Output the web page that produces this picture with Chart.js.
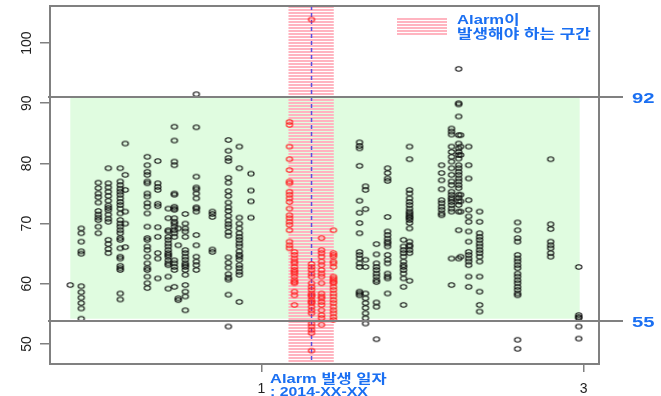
<!DOCTYPE html>
<html><head><meta charset="utf-8">
<script src="https://cdn.jsdelivr.net/npm/chart.js@4"></script>
<style>html,body{margin:0;padding:0;background:#fff;}canvas{display:block;}</style>
</head><body>
<canvas id="c" width="661" height="396"></canvas>
<script>
// ---- data ----
const columnX = [-0.186, -0.118, -0.012, 0.050, 0.124, 0.155, 0.292, 0.357, 0.422, 0.460, 0.484, 0.528,
  0.596, 0.696, 0.795, 0.863, 0.935, 1.174, 1.205, 1.311, 1.373, 1.447, 1.609, 1.646, 1.714, 1.783,
  1.882, 1.919, 2.118, 2.180, 2.224, 2.236, 2.286, 2.354, 2.590, 2.795, 2.969];
const columnValues = [
  [59.8],
  [69.2, 68.4, 67.0, 65.4, 65.0, 59.6, 58.6, 57.7, 56.8, 55.9, 54.2],
  [76.8, 75.9, 75.0, 74.4, 73.5, 72.1, 71.5, 71.0, 70.6, 69.5, 68.4],
  [79.2, 76.7, 76.0, 75.3, 74.6, 73.8, 73.0, 72.6, 72.2, 71.5, 70.8, 70.3, 67.3, 66.6, 65.8, 65.1],
  [79.2, 77.0, 76.4, 75.8, 75.3, 74.8, 74.2, 73.6, 73.1, 72.5, 71.7, 70.6, 70.0, 69.5, 68.9, 68.4, 67.6, 67.3, 65.9, 64.5, 64.2, 63.0, 62.6, 62.3, 58.4, 57.4],
  [83.3, 78.1, 75.6, 72.0, 70.0, 66.1],
  [81.1, 79.7, 78.6, 78.1, 77.0, 76.7, 75.0, 74.5, 73.4, 72.8, 71.7, 69.5, 67.6, 67.3, 66.2, 65.6, 64.5, 63.4, 62.6, 62.3, 61.2, 60.1, 59.3],
  [80.4, 76.7, 76.1, 75.6, 73.3, 72.9, 69.4, 67.8, 65.1, 64.2, 60.9],
  [72.5, 70.9, 68.9, 68.7, 67.8, 67.3, 66.7, 66.2, 65.6, 65.1, 64.8, 64.5, 63.9, 63.4, 63.1, 61.2, 59.2],
  [86.1, 83.8, 80.3, 79.7, 75.0, 74.8, 72.8, 72.5, 72.3, 70.9, 70.3, 70.0, 69.5, 68.9, 68.4, 67.8, 63.9, 63.4, 62.8, 62.3, 59.5],
  [69.2, 66.4, 57.6, 57.3],
  [71.6, 70.0, 69.2, 68.7, 67.8, 65.6, 65.1, 64.5, 64.0, 63.4, 63.1, 62.8, 62.3, 61.5, 59.8, 58.7, 57.9, 55.6],
  [91.5, 86.0, 77.8, 76.0, 75.7, 75.0, 74.2, 72.7, 72.5, 72.0, 68.1, 66.4, 64.5, 63.7, 63.1, 62.3],
  [72.0, 71.6, 71.1, 65.7, 65.3],
  [83.9, 82.1, 80.9, 80.4, 77.6, 76.8, 75.4, 74.6, 73.5, 72.7, 72.1, 71.3, 70.5, 69.9, 69.4, 68.6, 68.0, 64.4, 63.5, 62.7, 61.6, 61.0, 60.7, 58.2, 52.9],
  [82.8, 79.2, 71.0, 70.0, 69.2, 68.4, 67.8, 67.3, 66.7, 66.2, 65.4, 64.8, 64.5, 64.0, 63.1, 62.6, 62.0, 61.5, 57.0],
  [78.3, 75.5, 73.7, 71.0],
  [86.9, 86.4, 82.8, 80.7, 78.9, 77.0, 76.7, 75.3, 74.8, 74.2, 73.6, 72.5, 71.4, 70.9, 70.3, 69.8, 68.9, 67.0, 66.4, 65.9],
  [65.3, 64.8, 64.2, 63.7, 63.4, 62.8, 62.3, 62.0, 61.7, 61.2, 60.6, 60.3, 60.1, 58.7, 58.1, 56.5],
  [103.9, 63.3, 62.8, 62.3, 61.7, 61.2, 60.1, 59.5, 59.0, 58.4, 58.1, 57.9, 57.3, 57.0, 56.8, 56.2, 55.6, 55.1, 53.4, 52.9, 52.3, 51.8, 48.9],
  [67.6, 65.6, 65.1, 64.5, 63.7, 63.1, 62.3, 61.7, 61.2, 60.1, 58.4, 57.9, 57.6, 57.0, 56.5, 55.6, 54.8, 54.3, 53.2],
  [68.9, 65.1, 64.8, 64.5, 63.7, 63.4, 62.8, 61.2, 60.9, 60.6, 60.3, 60.1, 59.5, 59.0, 58.4, 57.9, 57.3, 56.8, 56.2, 55.6, 55.1, 54.5, 54.0],
  [83.5, 82.9, 82.5, 79.6, 73.8, 71.8, 70.1, 68.4, 65.3, 64.8, 64.2, 63.4, 62.8, 58.7, 58.4, 58.1],
  [76.2, 75.6, 72.4, 64.0, 62.8, 58.4, 57.6, 56.8, 56.0, 55.1, 54.3, 53.4],
  [66.6, 64.9, 63.4, 62.8, 62.3, 61.7, 61.2, 60.6, 60.3, 56.9, 56.2, 50.8],
  [79.2, 78.4, 77.5, 77.1, 71.1, 68.7, 68.1, 67.5, 67.0, 66.7, 66.2, 64.8, 64.0, 63.4, 61.7, 61.2, 60.9, 58.4],
  [67.3, 66.2, 65.6, 65.1, 64.5, 63.7, 63.1, 62.8, 62.3, 61.7, 60.9, 59.5, 56.5],
  [82.8, 80.7, 75.6, 75.0, 74.2, 73.6, 73.1, 72.5, 72.0, 71.7, 71.4, 71.1, 70.9, 70.6, 70.1, 69.2, 67.0, 66.4, 66.2, 65.6, 65.1, 60.5],
  [79.7, 78.4, 77.2, 75.7, 73.9, 73.4, 72.8, 72.3, 71.7, 71.4],
  [85.8, 85.3, 84.8, 82.8, 81.9, 81.1, 80.3, 79.2, 78.1, 77.0, 76.4, 75.3, 74.8, 74.3, 74.0, 73.6, 73.1, 72.5, 72.0, 64.2, 59.8],
  [95.7, 90.0, 89.8, 87.8, 84.7, 83.3, 82.5, 81.9, 81.4, 80.8, 79.7, 79.2, 78.6, 78.1, 77.5, 77.0, 76.4, 75.9, 74.8, 74.3, 73.7, 73.1, 72.0, 68.9, 64.2],
  [84.7, 82.8, 81.4, 74.8, 73.7, 72.0, 64.5],
  [82.8, 79.7, 77.5, 73.9, 72.3, 71.2, 70.3, 68.7, 67.0, 65.3, 64.8, 64.2, 63.7, 63.1, 61.2, 59.5],
  [72.0, 70.3, 68.4, 67.8, 67.3, 66.7, 66.2, 65.6, 65.1, 64.5, 63.7, 61.2, 58.7, 56.5, 55.4],
  [70.2, 68.9, 67.6, 67.0, 64.8, 64.2, 63.7, 63.1, 62.6, 61.7, 61.2, 60.6, 60.1, 59.5, 59.0, 58.4, 58.1, 50.7, 49.2],
  [80.7, 69.9, 69.1, 67.0, 66.4, 65.9, 65.1, 64.5],
  [62.8, 54.8, 54.5, 54.3, 52.9, 50.9]
];
const xTickValues = [1, 3];
const yTickValues = [50, 60, 70, 80, 90, 100];
const alarmBand = [1.168, 1.452];
const alarmDay = 1.311;
const limitValues = [91, 53.8];
const limitLabels = ['92', '55'];
const normalZoneX = [-0.186, 2.975];
const normalZoneY = [54.2, 91];
const legendLines = ['Alarm이', '발생해야 하는 구간'];
const axisNoteLines = ['Alarm 발생 일자', ': 2014-XX-XX'];

// ---- build point lists ----
const normalPts = [], alarmPts = [];
columnX.forEach((x, i) => {
  const inBand = x >= alarmBand[0] && x <= alarmBand[1];
  columnValues[i].forEach(v => (inBand ? alarmPts : normalPts).push({x, y: v}));
});

function makeMarker(color) {
  const c = document.createElement('canvas');
  c.width = 10; c.height = 8;
  const g = c.getContext('2d');
  g.strokeStyle = color; g.lineWidth = 1.1;
  g.beginPath(); g.ellipse(5, 4, 3.1, 2.2, 0, 0, Math.PI * 2); g.stroke();
  return c;
}
function makeStripe() {
  const c = document.createElement('canvas');
  c.width = 4; c.height = 3;
  const g = c.getContext('2d');
  g.fillStyle = '#ffb4c0'; g.fillRect(0, 0, 4, 2);
  return c;
}
const stripe = makeStripe();
const BLUE = '#1a6ff2';
const FONT = '"Liberation Sans", "Noto Sans CJK KR", sans-serif';

function stretchText(ctx, str, x, y, size, sx, color) {
  ctx.save();
  ctx.translate(x, y);
  ctx.scale(sx, 1);
  ctx.font = 'bold ' + size + 'px ' + FONT;
  ctx.fillStyle = color;
  ctx.textAlign = 'left';
  ctx.textBaseline = 'alphabetic';
  ctx.fillText(str, 0, 0);
  ctx.restore();
}

const decor = {
  id: 'decor',
  beforeDatasetsDraw(chart) {
    const {ctx, chartArea: a, scales: {x, y}} = chart;
    ctx.save();
    ctx.fillStyle = '#e0fce0';
    const gx0 = x.getPixelForValue(normalZoneX[0]), gx1 = x.getPixelForValue(normalZoneX[1]);
    const gy0 = y.getPixelForValue(normalZoneY[1]), gy1 = y.getPixelForValue(normalZoneY[0]);
    ctx.fillRect(gx0, gy0, gx1 - gx0, gy1 - gy0);
    const bx0 = x.getPixelForValue(1.168), bx1 = x.getPixelForValue(1.449);
    ctx.fillStyle = ctx.createPattern(stripe, 'repeat');
    ctx.fillRect(bx0, a.top, bx1 - bx0, a.bottom - a.top);
    const dx = x.getPixelForValue(alarmDay);
    ctx.strokeStyle = '#5b4fe0'; ctx.lineWidth = 1.5; ctx.setLineDash([4, 3]);
    ctx.beginPath(); ctx.moveTo(dx, a.top); ctx.lineTo(dx, a.bottom); ctx.stroke();
    ctx.restore();
  },
  afterDatasetsDraw(chart) {
    const {ctx, chartArea: a, scales: {x, y}} = chart;
    ctx.save();
    ctx.strokeStyle = '#808080'; ctx.lineWidth = 2;
    limitValues.forEach((v, i) => {
      const py = Math.round(y.getPixelForValue(v));
      ctx.beginPath(); ctx.moveTo(a.left - 2, py); ctx.lineTo(a.right + 24, py); ctx.stroke();
      stretchText(ctx, limitLabels[i], 632, py + 5.5, 15, 1.35, BLUE);
    });
    ctx.strokeRect(a.left, a.top, a.right - a.left, a.bottom - a.top);
    ctx.fillStyle = ctx.createPattern(stripe, 'repeat');
    ctx.fillRect(397, 17, 50, 18);
    stretchText(ctx, legendLines[0], 457, 24, 13, 1.28, BLUE);
    stretchText(ctx, legendLines[1], 457, 38, 13, 1.3, BLUE);
    stretchText(ctx, axisNoteLines[0], 270, 383, 13, 1.27, BLUE);
    stretchText(ctx, axisNoteLines[1], 270, 396, 13, 1.22, BLUE);
    ctx.restore();
  }
};

new Chart(document.getElementById('c'), {
  type: 'scatter',
  data: {
    datasets: [
      {label: 'normal', data: normalPts, pointStyle: makeMarker('#111'), pointRadius: 3},
      {label: 'alarm', data: alarmPts, pointStyle: makeMarker('#ff2020'), pointRadius: 3}
    ]
  },
  options: {
    responsive: false,
    animation: false,
    events: [],
    layout: {padding: {top: 6, right: 62, left: 0, bottom: 0}},
    plugins: {legend: {display: false}, tooltip: {enabled: false}},
    scales: {
      x: {
        type: 'linear', min: -0.312, max: 3.095,
        afterBuildTicks: s => { s.ticks = xTickValues.map(v => ({value: v})); },
        afterFit: s => { s.height = 32; s.paddingLeft = 0; s.paddingRight = 0; },
        grid: {drawOnChartArea: false, tickLength: 8, color: '#808080', lineWidth: 1.5},
        border: {display: false},
        ticks: {font: {size: 14, family: FONT}, color: '#222', padding: 9, autoSkip: false, maxRotation: 0}
      },
      y: {
        min: 46.68, max: 106.15,
        afterBuildTicks: s => { s.ticks = yTickValues.map(v => ({value: v})); },
        afterFit: s => { s.width = 50; s.paddingTop = 0; s.paddingBottom = 0; },
        grid: {drawOnChartArea: false, tickLength: 10, color: '#808080', lineWidth: 1.5},
        border: {display: false},
        ticks: {font: {size: 14, family: FONT}, color: '#222', padding: 1, minRotation: 90, maxRotation: 90, crossAlign: 'center'}
      }
    }
  },
  plugins: [decor]
});
</script>
</body></html>
